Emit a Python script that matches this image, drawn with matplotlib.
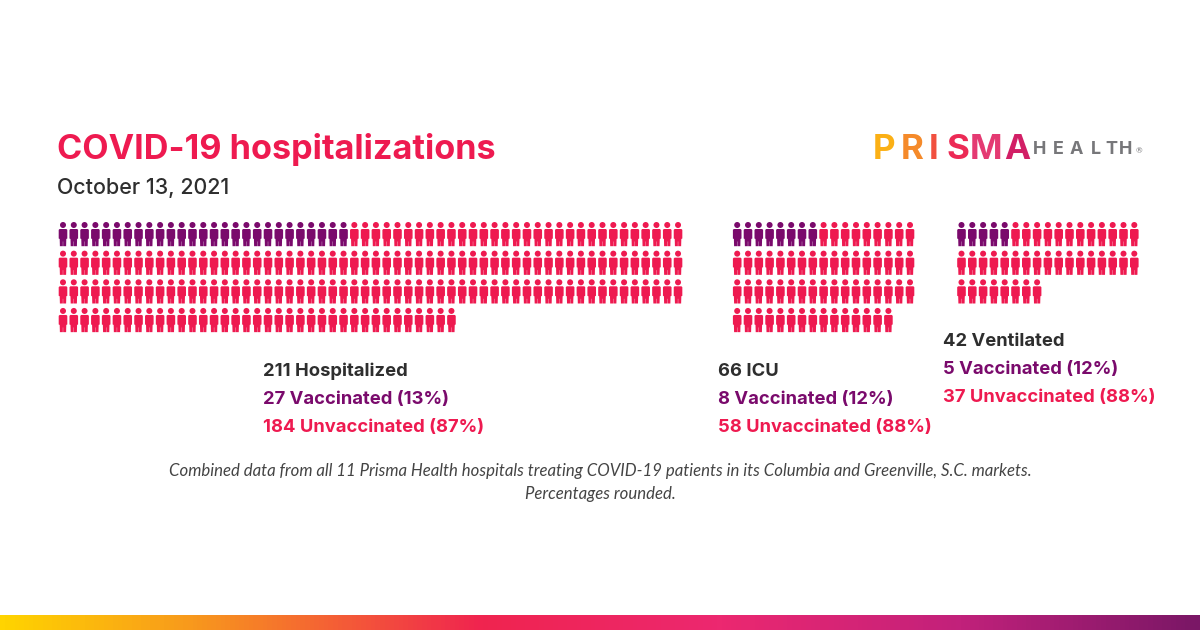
import numpy as np
import matplotlib
matplotlib.use('Agg')
import matplotlib.pyplot as plt
from matplotlib.path import Path
from matplotlib.patches import PathPatch
from matplotlib.colors import LinearSegmentedColormap

plt.rcParams['font.family'] = ['Lato', 'DejaVu Sans']
HEAD_FONT = ['Inter', 'Lato', 'DejaVu Sans']

# data
groups = ['Hospitalized', 'ICU', 'Ventilated']
totals = [211, 66, 42]
vaccinated = [27, 8, 5]
unvaccinated = [184, 58, 37]
vacc_pct = [13, 12, 12]
unvacc_pct = [87, 88, 88]
title = 'COVID-19 hospitalizations'
subtitle = 'October 13, 2021'
note = ['Combined data from all 11 Prisma Health hospitals treating COVID-19 patients in its Columbia and Greenville, S.C. markets.',
        'Percentages rounded.']

# layout, in pixels of the 1200x630 picture
columns = [58, 17, 17]
grid_x = [63.0, 737.2, 961.5]
pitch_x = [10.79, 10.8, 10.8]
grid_y = 225.0
pitch_y = 28.65
label_x = [263, 718, 943]
label_y = [371, 371, 342]

RED = '#EE1A50'
PURPLE = '#7A0A6C'
DARK = '#2E2E2E'
GREY = '#77777A'


def px(size):
    # font size in pixels to points
    return size * 72 / 100


def person(cx, cy):
    # one figure, cy is the middle of the head
    head = Path.circle((cx, cy), 3.0)
    body = [(-3.4, 4.0), (3.4, 4.0), (4.3, 4.9), (4.3, 13.5), (3.3, 14.0), (3.1, 21.2), (0.15, 21.2), (0.15, 16.5),
            (-0.15, 16.5), (-0.15, 21.2), (-3.1, 21.2), (-3.3, 14.0), (-4.3, 13.5), (-4.3, 4.9), (-3.4, 4.0)]
    body = Path([(cx + a, cy + b) for a, b in body], closed=True)
    return [head, body]


fig = plt.figure(figsize=(12, 6.3), dpi=100, facecolor='white')
ax = fig.add_axes([0, 0, 1, 1])
ax.set_xlim(0, 1200)
ax.set_ylim(630, 0)
ax.axis('off')

# people grids
for g in range(len(groups)):
    shapes = {PURPLE: [], RED: []}
    for i in range(totals[g]):
        col = i % columns[g]
        row = i // columns[g]
        color = PURPLE if i < vaccinated[g] else RED
        shapes[color] += person(grid_x[g] + col * pitch_x[g], grid_y + row * pitch_y)
    for color, parts in shapes.items():
        ax.add_patch(PathPatch(Path.make_compound_path(*parts), facecolor=color, edgecolor='none'))

    lines = [(f'{totals[g]} {groups[g]}', DARK),
             (f'{vaccinated[g]} Vaccinated ({vacc_pct[g]}%)', PURPLE),
             (f'{unvaccinated[g]} Unvaccinated ({unvacc_pct[g]}%)', RED)]
    for k, (txt, color) in enumerate(lines):
        ax.text(label_x[g], label_y[g] + k * 28, txt, color=color, fontsize=px(18.4),
                family=HEAD_FONT, fontweight='bold', va='center', ha='left')

# headings
ax.text(57, 150, title, color=RED, fontsize=px(34.2), family=HEAD_FONT, fontweight='bold', va='center', ha='left')
ax.text(57, 188, subtitle, color=DARK, fontsize=px(21.4), family=HEAD_FONT, fontweight='medium', va='center', ha='left')

# note
ax.text(600, 471, note[0], color='#444444', fontsize=px(16.8), style='italic', va='center', ha='center')
ax.text(600, 494, note[1], color='#444444', fontsize=px(16.8), style='italic', va='center', ha='center')

# logo
logo_letters = ['P', 'R', 'I', 'S', 'M', 'A']
logo_x = [873, 901, 929, 946, 970, 1004]
logo_colors = ['#FBB015', '#F58A2A', '#F1503F', '#EC2A55', '#E43A72', '#D21F66']
for ch, x, c in zip(logo_letters, logo_x, logo_colors):
    ax.text(x, 150, ch, color=c, fontsize=px(35), family=HEAD_FONT, fontweight='bold', va='center', ha='left')
health_x = [1033, 1053, 1070, 1091, 1105, 1119]
for ch, x in zip('HEALTH', health_x):
    ax.text(x, 149, ch, color=GREY, fontsize=px(18), family=HEAD_FONT, fontweight='bold', va='center', ha='left')
ax.text(1139, 151, '®', color=GREY, fontsize=px(8), va='center', ha='center')

# bottom colour band
band = LinearSegmentedColormap.from_list('band', [(0, '#FFD400'), (0.16, '#F8981D'), (0.40, '#F0244F'),
                                                  (0.60, '#EC2870'), (0.80, '#C2217B'), (1, '#7A1766')])
ax.imshow(np.linspace(0, 1, 1200).reshape(1, -1), cmap=band, extent=(0, 1200, 630, 615), aspect='auto')
ax.set_xlim(0, 1200)
ax.set_ylim(630, 0)

fig.savefig('out.png', dpi=100)
